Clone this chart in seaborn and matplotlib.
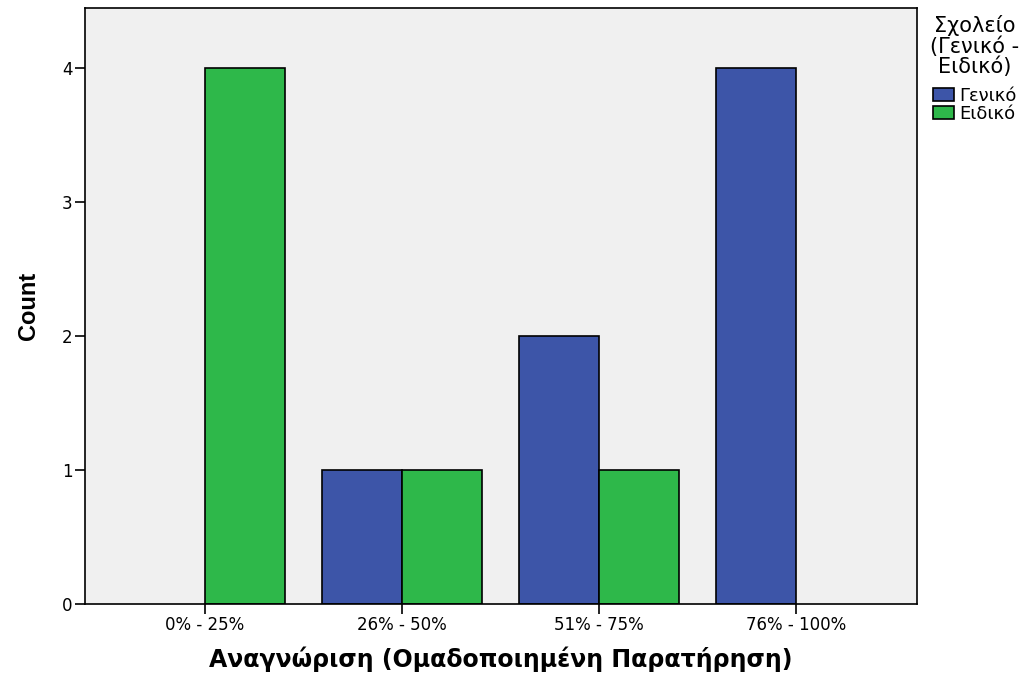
import pandas as pd
import seaborn as sns
import matplotlib.pyplot as plt

# Data
categories = ['0% - 25%', '26% - 50%', '51% - 75%', '76% - 100%']
geniko = [0, 1, 2, 4]
eidiko = [4, 1, 1, 0]
hue_levels = ['Γενικό', 'Ειδικό']

df = pd.DataFrame({
    'group': categories * 2,
    'school': [hue_levels[0]] * 4 + [hue_levels[1]] * 4,
    'count': geniko + eidiko,
})
# empty bars are not drawn in the original
df = df[df['count'] > 0]

sns.set_style('white')
plt.rcParams['font.family'] = ['DejaVu Sans']
for k in ['text.color', 'axes.labelcolor', 'xtick.color', 'ytick.color']:
    plt.rcParams[k] = 'black'

fig = plt.figure(figsize=(10.29, 6.74), dpi=100)
ax = fig.add_axes([85 / 1029, 70 / 674, 832 / 1029, 596 / 674])

palette = {'Γενικό': '#3d55a8', 'Ειδικό': '#2eb84a'}
sns.barplot(data=df, x='group', y='count', hue='school', hue_order=hue_levels,
            order=categories, palette=palette, width=0.81, saturation=1,
            edgecolor='black', linewidth=1.2, ax=ax)

ax.set_facecolor('#f0f0f0')
ax.set_xlim(-0.609, 3.614)
ax.set_ylim(0, 4.45)
ax.set_yticks([0, 1, 2, 3, 4])
for s in ax.spines.values():
    s.set_color('black')
    s.set_linewidth(1.2)

ax.tick_params(axis='both', direction='out', length=7, width=1.2, color='black',
               labelsize=12, pad=2, bottom=True, left=True)
ax.set_xlabel('Αναγνώριση (Ομαδοποιημένη Παρατήρηση)', fontsize=17,
              fontweight='bold', labelpad=9)
ax.set_ylabel('Count', fontsize=17, fontweight='bold',
              family=['Liberation Sans', 'DejaVu Sans'], labelpad=16)

ax.get_legend().remove()
handles, labels = ax.get_legend_handles_labels()
leg = fig.legend(handles, labels, title='Σχολείο\n(Γενικό -\nΕιδικό)',
                 loc='upper left', bbox_to_anchor=(930 / 1029, 1 - 15 / 674),
                 frameon=False, fontsize=13, title_fontsize=15,
                 handlelength=1.2, handleheight=0.75, handletextpad=0.25,
                 labelspacing=0.02, borderaxespad=0, borderpad=0)
plt.setp(leg.get_title(), multialignment='center', linespacing=1.0)
leg._legend_box.sep = 7

fig.savefig('out.png', dpi=100)
